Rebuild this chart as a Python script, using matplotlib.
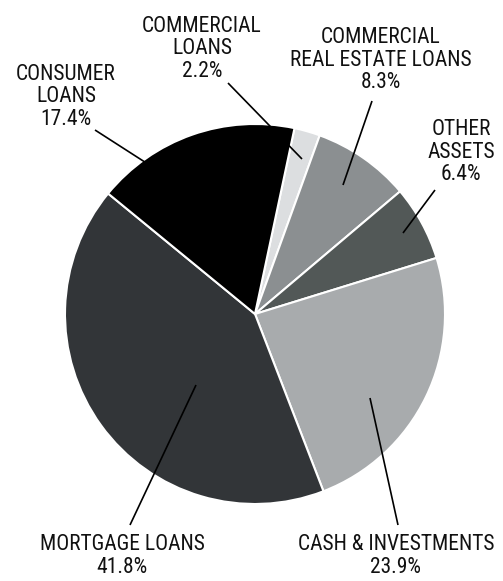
import matplotlib
matplotlib.use("Agg")
import matplotlib.pyplot as plt
from matplotlib import font_manager

# Asset mix, clockwise from the top
labels = ["COMMERCIAL\nLOANS", "COMMERCIAL\nREAL ESTATE LOANS", "OTHER\nASSETS",
          "CASH & INVESTMENTS", "MORTGAGE LOANS", "CONSUMER\nLOANS"]
shares = [2.2, 8.3, 6.4, 23.9, 41.8, 17.4]
colors = ["#dcdee0", "#8b8f91", "#525857", "#a8abad", "#323538", "#000000"]

W, H = 503, 581
CENTER = (255, H - 314)
RADIUS = 190

# label block centre and leader line (start near text, end inside wedge), pixel coords from top
label_pos = [(202, 49), (381, 60), (461, 152), (396, 556), (122, 556), (66, 97)]
leaders = [((228, 83), (302, 159)),
           ((372, 101), (343, 185)),
           ((435, 190), (403, 233)),
           ((398, 525), (370, 398)),
           ((130, 525), (196, 385)),
           ((95, 130), (165, 175))]


def pick_font():
    """Narrowest sans available: a condensed face if installed, else Roboto."""
    fonts = font_manager.fontManager.ttflist
    names = {f.name for f in fonts}
    for name in ["Liberation Sans Narrow", "Roboto Condensed", "Open Sans Condensed",
                 "Noto Sans Condensed", "DejaVu Sans Condensed"]:
        if name in names:
            return dict(family=[name, "DejaVu Sans"])
    for f in fonts:
        if f.name in ("DejaVu Sans", "Noto Sans", "Roboto") and f.stretch in (
                "condensed", "semi-condensed", 87.5, 75, 62.5) and f.weight in (400, "normal", "regular"):
            return dict(family=[f.name, "DejaVu Sans"], fontstretch="condensed")
    return dict(family=["Roboto", "DejaVu Sans"])


font = pick_font()

fig = plt.figure(figsize=(W / 100, H / 100), dpi=100)
ax = fig.add_axes([0, 0, 1, 1])

ax.pie(shares, colors=colors, startangle=78, counterclock=False,
       center=CENTER, radius=RADIUS, frame=True,
       wedgeprops=dict(edgecolor="white", linewidth=1.5))
ax.set_xlim(0, W)
ax.set_ylim(0, H)
ax.set_aspect("equal")
ax.axis("off")

for lab, val, (tx, ty), (p0, p1) in zip(labels, shares, label_pos, leaders):
    ax.plot([p0[0], p1[0]], [H - p0[1], H - p1[1]], color="black", lw=1.2,
            solid_capstyle="butt", zorder=5)
    ax.text(tx, H - ty, f"{lab}\n{val}%", ha="center", va="center",
            fontsize=15.5, linespacing=1.12, color="#111111", zorder=6, **font)

fig.savefig("out.png", dpi=100)
